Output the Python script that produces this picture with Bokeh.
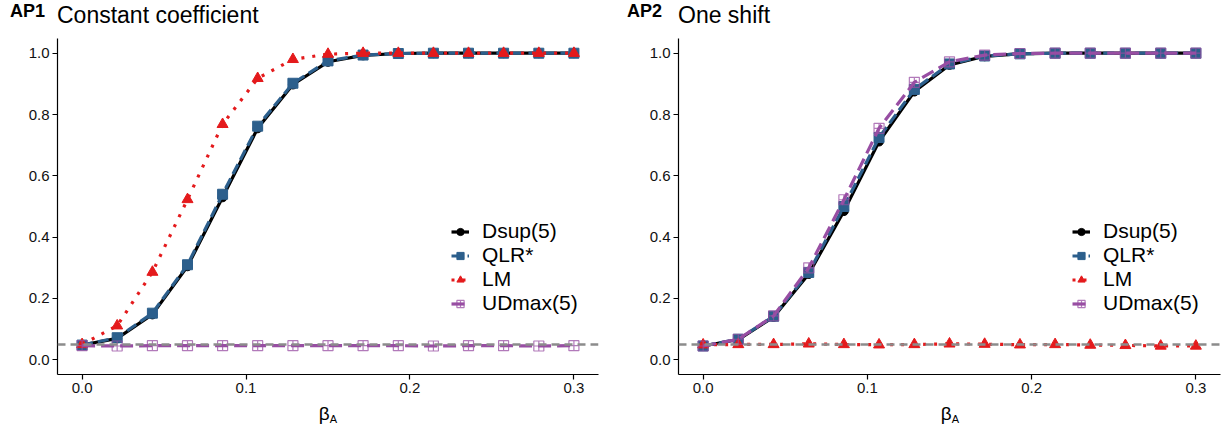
from bokeh.plotting import figure
from bokeh.layouts import row, column
from bokeh.models import (Range1d, FixedTicker, PrintfTickFormatter, Span,
                          Legend, LegendItem, Div)
from bokeh.embed import file_html
from bokeh.resources import INLINE

# ---------------- data ----------------
beta = [0.0, 0.0214, 0.0429, 0.0643, 0.0857, 0.1071, 0.1286, 0.15,
        0.1714, 0.1929, 0.2143, 0.2357, 0.2571, 0.2786, 0.3]

# AP1: constant coefficient
dsup_ap1 = [0.048, 0.070, 0.148, 0.305, 0.530, 0.755, 0.898, 0.972,
            0.993, 0.999, 1.0, 1.0, 1.0, 1.0, 1.0]
qlr_ap1 = [0.048, 0.072, 0.152, 0.310, 0.540, 0.762, 0.902, 0.975,
           0.994, 0.999, 1.0, 1.0, 1.0, 1.0, 1.0]
lm_ap1 = [0.050, 0.111, 0.286, 0.523, 0.768, 0.918, 0.980, 0.997,
          1.0, 1.0, 1.0, 1.0, 1.0, 1.0, 1.0]
udmax_ap1 = [0.046, 0.045, 0.046, 0.046, 0.046, 0.046, 0.046, 0.046,
             0.046, 0.046, 0.045, 0.046, 0.046, 0.045, 0.046]

# AP2: one shift
dsup_ap2 = [0.045, 0.066, 0.140, 0.280, 0.485, 0.712, 0.875, 0.962,
            0.990, 0.998, 1.0, 1.0, 1.0, 1.0, 1.0]
qlr_ap2 = [0.045, 0.067, 0.142, 0.285, 0.500, 0.725, 0.882, 0.965,
           0.991, 0.998, 1.0, 1.0, 1.0, 1.0, 1.0]
lm_ap2 = [0.049, 0.050, 0.050, 0.052, 0.050, 0.049, 0.050, 0.052,
          0.051, 0.049, 0.050, 0.048, 0.047, 0.045, 0.045]
udmax_ap2 = [0.045, 0.067, 0.143, 0.300, 0.522, 0.755, 0.905, 0.972,
             0.994, 0.999, 1.0, 1.0, 1.0, 1.0, 1.0]

nominal = 0.05
x_ticks = [0.0, 0.1, 0.2, 0.3]
y_ticks = [0.0, 0.2, 0.4, 0.6, 0.8, 1.0]
series_names = ["Dsup(5)", "QLR*", "LM", "UDmax(5)"]
panel_tags = ["AP1", "AP2"]
panel_titles = ["Constant coefficient", "One shift"]

FONT = "Liberation Sans"
BLACK = "#000000"
BLUE = "#2C5F8C"
RED = "#E41A1C"
PURPLE = "#984EA3"

FIG_W = 613
TITLE_H = 30
FIG_H = 372
XLAB_H = 28


def make_panel(dsup, qlr, lm, udmax, left_border, right_border):
    p = figure(width=FIG_W, height=FIG_H, output_backend="svg", toolbar_location=None,
               x_range=Range1d(-0.015, 0.315), y_range=Range1d(-0.048, 1.048),
               min_border_left=left_border, min_border_right=right_border,
               min_border_top=8, min_border_bottom=28)
    p.outline_line_color = None
    p.grid.visible = False
    p.background_fill_color = "white"

    for ax in (p.xaxis, p.yaxis):
        ax.axis_line_color = BLACK
        ax.axis_line_width = 1.2
        ax.major_tick_line_color = BLACK
        ax.major_tick_line_width = 1.2
        ax.major_tick_out = 5
        ax.major_tick_in = 0
        ax.minor_tick_line_color = None
        ax.major_label_text_font = FONT
        ax.major_label_text_font_size = "15px"
        ax.major_label_text_color = "#111111"
        ax.major_label_standoff = 3
    p.xaxis.ticker = FixedTicker(ticks=x_ticks)
    p.yaxis.ticker = FixedTicker(ticks=y_ticks)
    p.xaxis.formatter = PrintfTickFormatter(format="%.1f")
    p.yaxis.formatter = PrintfTickFormatter(format="%.1f")

    p.add_layout(Span(location=nominal, dimension="width", line_color="#8C8C8C",
                      line_width=2.5, line_dash="8 5"))

    r_d_l = p.line(beta, dsup, line_color=BLACK, line_width=3.2)
    r_d_s = p.scatter(beta, dsup, marker="circle", size=9, fill_color=BLACK, line_color=BLACK)

    r_q_l = p.line(beta, qlr, line_color=BLUE, line_width=3.2, line_dash="11 5")
    r_q_s = p.scatter(beta, qlr, marker="square", size=10, fill_color=BLUE, line_color=BLUE)

    r_l_l = p.line(beta, lm, line_color=RED, line_width=3.2, line_dash="3 8")
    r_l_s = p.scatter(beta, lm, marker="triangle", size=11, fill_color=RED, line_color=RED)

    r_u_l = p.line(beta, udmax, line_color=PURPLE, line_width=3.2, line_dash="13 6")
    r_u_s = p.scatter(beta, udmax, marker="square_cross", size=10, fill_color=None,
                      line_color=PURPLE, line_alpha=0.75, line_width=1.2)

    legend = Legend(items=[
        LegendItem(label=series_names[0], renderers=[r_d_l, r_d_s]),
        LegendItem(label=series_names[1], renderers=[r_q_l, r_q_s]),
        LegendItem(label=series_names[2], renderers=[r_l_l, r_l_s]),
        LegendItem(label=series_names[3], renderers=[r_u_l, r_u_s]),
    ], location=(394, 59))
    legend.label_text_font = FONT
    legend.label_text_font_size = "21px"
    legend.label_text_color = BLACK
    legend.glyph_width = 18
    legend.glyph_height = 21
    legend.label_height = 21
    legend.label_standoff = 13
    legend.spacing = 0
    legend.padding = 0
    legend.margin = 0
    legend.border_line_color = None
    legend.background_fill_alpha = 0
    p.add_layout(legend, "center")
    return p


def title_div(tag, title, tag_left, title_left):
    html = (
        f'<div style="position:relative;width:{FIG_W}px;height:{TITLE_H}px;'
        f'font-family:\'{FONT}\';color:#000;">'
        f'<span style="position:absolute;left:{tag_left}px;top:2px;font-size:18px;'
        f'font-weight:bold;line-height:1;white-space:nowrap;">{tag}</span>'
        f'<span style="position:absolute;left:{title_left}px;top:4px;font-size:23px;'
        f'line-height:1;white-space:nowrap;">{title}</span>'
        f'</div>'
    )
    return Div(text=html, width=FIG_W, height=TITLE_H, margin=(0, 0, 0, 0))


def xlabel_div(center):
    html = (
        f'<div style="position:relative;width:{FIG_W}px;height:{XLAB_H}px;'
        f'font-family:\'{FONT}\';color:#000;">'
        f'<span style="position:absolute;left:{center}px;top:2px;transform:translateX(-50%);'
        f'font-size:19px;line-height:1;white-space:nowrap;">β'
        f'<span style="font-size:11px;position:relative;top:3px;">A</span></span>'
        f'</div>'
    )
    return Div(text=html, width=FIG_W, height=XLAB_H, margin=(0, 0, 0, 0))


p1 = make_panel(dsup_ap1, qlr_ap1, lm_ap1, udmax_ap1, 57, 15)
p2 = make_panel(dsup_ap2, qlr_ap2, lm_ap2, udmax_ap2, 65, 6)

t1 = title_div(panel_tags[0], panel_titles[0], 10, 57)
t2 = title_div(panel_tags[1], panel_titles[1], 14, 65)
x1 = xlabel_div(328)
x2 = xlabel_div(337)

layout = column(row(t1, t2, spacing=0), row(p1, p2, spacing=0), row(x1, x2, spacing=0),
                spacing=0)
open("out.html", "w").write(file_html(layout, INLINE))
